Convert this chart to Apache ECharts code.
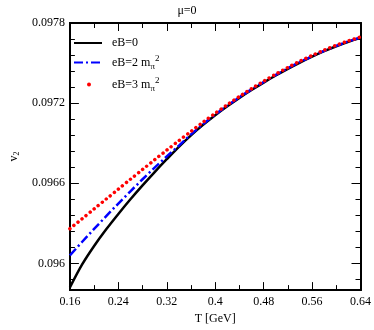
<!DOCTYPE html>
<html>
<head>
<meta charset="utf-8">
<script src="https://cdn.jsdelivr.net/npm/echarts@6/dist/echarts.min.js"></script>
<style>
  html, body { margin: 0; padding: 0; background: #fff; }
  #chart { width: 374px; height: 330px; }
</style>
</head>
<body>
<div id="chart"></div>
<script>
const temps = [0.16, 0.18, 0.20, 0.22, 0.24, 0.26, 0.28, 0.30, 0.32, 0.34, 0.36, 0.38, 0.40,
  0.42, 0.44, 0.46, 0.48, 0.50, 0.52, 0.54, 0.56, 0.58, 0.60, 0.62, 0.64]
const v2eB0 = [0.09582, 0.09599, 0.09613, 0.096255, 0.09637, 0.09648, 0.096584, 0.096684, 0.09678,
  0.096873, 0.096959, 0.097037, 0.097109, 0.097176, 0.097239, 0.097298, 0.097354, 0.097407,
  0.097457, 0.097504, 0.097548, 0.097589, 0.097626, 0.097659, 0.097689]
const v2eB2 = [0.09606, 0.09616, 0.096258, 0.096354, 0.096448, 0.09654, 0.09663, 0.096717, 0.096801,
  0.096882, 0.096966, 0.097043, 0.097114, 0.097181, 0.097244, 0.097303, 0.097358, 0.097411,
  0.097461, 0.097508, 0.097551, 0.097592, 0.097629, 0.097662, 0.097692]
const v2eB3 = [0.09626, 0.096334, 0.096408, 0.096482, 0.096556, 0.09663, 0.096703, 0.096776, 0.096848,
  0.096919, 0.096988, 0.097058, 0.097124, 0.097188, 0.09725, 0.097308, 0.097364, 0.097417,
  0.097467, 0.097514, 0.097557, 0.097597, 0.097634, 0.097666, 0.097695]
const yMajorTicks = [0.096, 0.0966, 0.0972, 0.0978]
const yMinorTicks = [0.09588, 0.09612, 0.09624, 0.09636, 0.09648, 0.09672, 0.09684, 0.09696,
  0.09708, 0.09732, 0.09744, 0.09756, 0.09768]

const font = 'Liberation Serif'
const black = '#000'

function pairs(ys) {
  return temps.map((t, i) => [t, ys[i]])
}

function xAxisOf(position, showLabels) {
  return {
    type: 'value', position, min: 0.16, max: 0.64, interval: 0.08,
    name: showLabels ? 'T [GeV]' : '', nameLocation: 'middle', nameGap: 21,
    nameTextStyle: { fontFamily: font, fontSize: 12, color: black },
    axisLine: { onZero: false, lineStyle: { color: black, width: 2 } },
    axisTick: { inside: true, length: 8, lineStyle: { color: black, width: 1 } },
    minorTick: { show: true, splitNumber: 2, length: 5, lineStyle: { color: black, width: 1 } },
    axisLabel: {
      show: showLabels, fontFamily: font, fontSize: 12, color: black, margin: 6,
      formatter: (v) => String(Number(v.toFixed(2)))
    },
    splitLine: { show: false }
  }
}

function yAxisOf(position, ticks, len, showLabels) {
  return {
    type: 'value', position, min: 0.0958, max: 0.0978,
    name: showLabels ? '{v|v}{s|2}' : '', nameLocation: 'middle', nameGap: 48,
    nameTextStyle: {
      rich: {
        v: { fontFamily: font, fontSize: 12, color: black },
        s: { fontFamily: font, fontSize: 8, color: black, verticalAlign: 'bottom', padding: [6, 0, 0, 0] }
      }
    },
    axisLine: { onZero: false, lineStyle: { color: black, width: 2 } },
    axisTick: { inside: true, length: len, customValues: ticks, lineStyle: { color: black, width: 1 } },
    axisLabel: {
      show: showLabels, customValues: yMajorTicks, fontFamily: font, fontSize: 12, color: black, margin: 5,
      formatter: (v) => String(Number(v.toFixed(4)))
    },
    splitLine: { show: false }
  }
}

const legendRich = {
  a: { fontFamily: font, fontSize: 12, color: black },
  sub: { fontFamily: font, fontSize: 9, color: black, padding: [8, 0, 0, 0] },
  sup: { fontFamily: font, fontSize: 9, color: black, padding: [0, 0, 8, 0] }
}

const chart = echarts.init(document.getElementById('chart'), null, { renderer: 'canvas' })
chart.setOption({
  backgroundColor: '#fff',
  animation: false,
  title: {
    text: 'μ=0', left: 'center', top: 5, padding: 0,
    textStyle: { fontFamily: font, fontSize: 12, fontWeight: 'normal', color: black }
  },
  grid: { left: 57, right: 12, top: 23, bottom: 31 },
  legend: {
    orient: 'vertical', left: 73, top: 37, padding: 0, itemWidth: 28, itemHeight: 14, itemGap: 5,
    data: [
      'eB=0',
      'eB=2 m',
      {
        name: 'eB=3 m',
        icon: 'path://M0,0M28,14M13,7A2,2,0,1,0,17,7A2,2,0,1,0,13,7Z',
        itemStyle: { opacity: 1, color: '#ff0000' }
      }
    ],
    itemStyle: { opacity: 0 },
    textStyle: { rich: legendRich, padding: [0, 0, 0, 5] },
    formatter: (name) => name === 'eB=0' ? '{a|eB=0}' : '{a|' + name + '}{sub|π}{sup|2}'
  },
  xAxis: [xAxisOf('bottom', true), xAxisOf('top', false)],
  yAxis: [
    yAxisOf('left', yMajorTicks, 9, true),
    yAxisOf('left', yMinorTicks, 5, false),
    yAxisOf('right', yMajorTicks, 9, false),
    yAxisOf('right', yMinorTicks, 5, false)
  ],
  series: [
    {
      name: 'eB=0', type: 'line', symbol: 'none', smooth: 0.3, data: pairs(v2eB0),
      lineStyle: { color: black, width: 2.5 }, itemStyle: { color: black }
    },
    {
      name: 'eB=2 m', type: 'line', symbol: 'none', smooth: 0.3, data: pairs(v2eB2),
      lineStyle: { color: '#0000ff', width: 2.5, type: [9, 3, 2, 3] }, itemStyle: { color: '#0000ff' }
    },
    {
      name: 'eB=3 m', type: 'line', symbol: 'none', smooth: 0.3, data: pairs(v2eB3),
      lineStyle: { color: '#ff0000', width: 3.5, type: [0.01, 5.2], cap: 'round' }, itemStyle: { color: '#ff0000' }
    }
  ]
})
</script>
</body>
</html>
